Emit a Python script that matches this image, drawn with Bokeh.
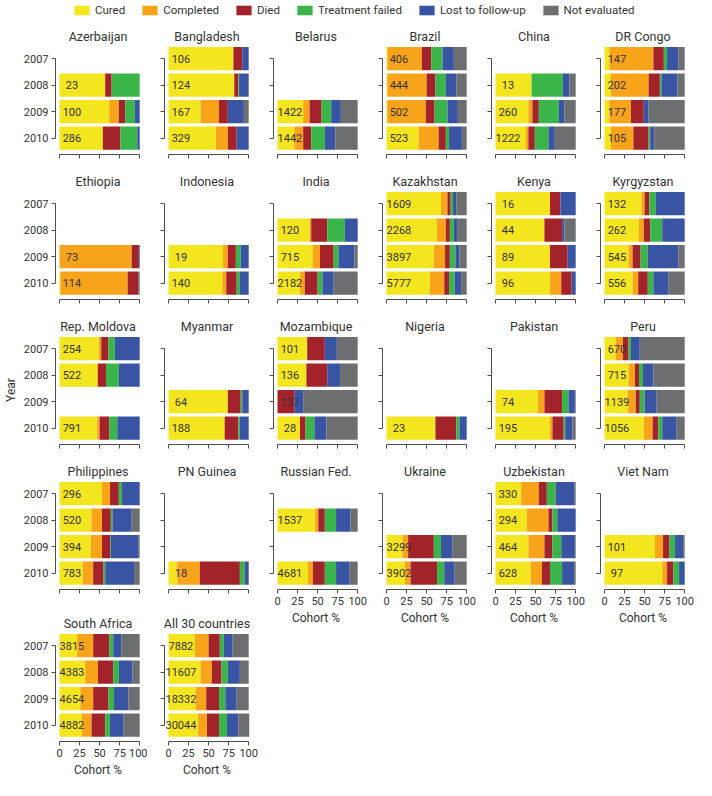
from bokeh.plotting import figure
from bokeh.models import ColumnDataSource, Range1d, FixedTicker, Legend, LegendItem
from bokeh.layouts import row, column
from bokeh.embed import file_html
from bokeh.resources import INLINE
from bokeh.core.properties import value

# ---------------- data ----------------
outcomes = ["Cured", "Completed", "Died", "Treatment failed", "Lost to follow-up", "Not evaluated"]
years = [2007, 2008, 2009, 2010]
countries = [
    "Azerbaijan", "Bangladesh", "Belarus", "Brazil", "China", "DR Congo",
    "Ethiopia", "Indonesia", "India", "Kazakhstan", "Kenya", "Kyrgyzstan",
    "Rep. Moldova", "Myanmar", "Mozambique", "Nigeria", "Pakistan", "Peru",
    "Philippines", "PN Guinea", "Russian Fed.", "Ukraine", "Uzbekistan", "Viet Nam",
    "South Africa", "All 30 countries",
]
# cohort size per year (None = no cohort reported)
cohort_n = [
    [None, 23, 100, 286], [106, 124, 167, 329], [None, None, 1422, 1442], [406, 444, 502, 523],
    [None, 13, 260, 1222], [147, 202, 177, 105],
    [None, None, 73, 114], [None, None, 19, 140], [None, 120, 715, 2182], [1609, 2268, 3897, 5777],
    [16, 44, 89, 96], [132, 262, 545, 556],
    [254, 522, None, 791], [None, None, 64, 188], [101, 136, 137, 28], [None, None, None, 23],
    [None, None, 74, 195], [670, 715, 1139, 1056],
    [296, 520, 394, 783], [None, None, None, 18], [None, 1537, None, 4681], [None, None, 3299, 3902],
    [330, 294, 464, 628], [None, None, 101, 97],
    [3815, 4383, 4654, 4882], [7882, 11607, 18332, 30044],
]
# outcome percentages per country (rows) and year (columns)
cured = [
    [None, 57, 62, 54], [81, 82, 40, 59], [None, None, 32, 21], [1, 1, 1, 40], [None, 45, 41, 38], [6, 8, 6, 8],
    [None, None, 0, 1], [None, None, 68, 67], [None, 40, 44, 28], [68, 63, 59, 54], [68, 61, 68, 68], [46, 43, 30, 35],
    [49, 47, None, 47], [None, None, 74, 70], [37, 36, 0, 28], [None, None, None, 61], [None, None, 53, 68], [14, 30, 29, 49],
    [53, 40, 39, 29], [None, None, None, 11], [None, 47, None, 38], [None, None, 20, 23], [32, 39, 41, 44], [None, None, 63, 72],
    [22, 32, 26, 28], [33, 40, 34, 37],
]
completed = [
    [None, 0, 12, 0], [0, 0, 23, 15], [None, None, 8, 11], [43, 49, 48, 25], [None, 0, 5, 3], [55, 47, 27, 28],
    [None, None, 90, 84], [None, None, 6, 5], [None, 2, 9, 6], [8, 11, 14, 18], [0, 0, 0, 14], [4, 6, 5, 7],
    [3, 1, None, 3], [None, None, 0, 0], [0, 0, 0, 0], [None, None, None, 0], [None, None, 8, 3], [9, 8, 10, 11],
    [10, 13, 14, 13], [None, None, None, 28], [None, 4, None, 6], [None, None, 7, 7], [22, 27, 20, 14], [None, None, 10, 6],
    [20, 16, 16, 12], [17, 14, 13, 11],
]
died = [
    [None, 8, 8, 22], [11, 5, 11, 11], [None, None, 15, 10], [12, 11, 11, 9], [None, 0, 8, 8], [13, 14, 16, 19],
    [None, None, 9, 13], [None, None, 10, 13], [None, 20, 17, 16], [4, 5, 6, 6], [13, 22, 22, 13], [6, 8, 10, 12],
    [9, 10, None, 12], [None, None, 16, 17], [22, 26, 21, 7], [None, None, None, 26], [None, None, 22, 14], [7, 5, 5, 7],
    [11, 11, 10, 13], [None, None, None, 50], [None, 8, None, 15], [None, None, 32, 33], [10, 5, 10, 10], [None, None, 8, 8],
    [20, 19, 19, 17], [14, 12, 16, 15],
]
failed = [
    [None, 35, 12, 21], [0, 1, 0, 0], [None, None, 12, 17], [14, 13, 16, 4], [None, 39, 25, 17], [4, 2, 0, 2],
    [None, None, 0, 0], [None, None, 6, 4], [None, 22, 6, 6], [3, 5, 7, 7], [0, 0, 0, 0], [8, 15, 9, 7],
    [8, 16, None, 10], [None, None, 2, 2], [0, 0, 0, 11], [None, None, None, 4], [None, None, 8, 2], [3, 5, 6, 5],
    [4, 2, 1, 2], [None, None, None, 6], [None, 14, None, 14], [None, None, 9, 9], [11, 6, 11, 15], [None, None, 7, 7],
    [5, 7, 7, 6], [5, 8, 8, 10],
]
lost = [
    [None, 0, 6, 3], [8, 12, 20, 15], [None, None, 12, 13], [14, 13, 13, 16], [None, 8, 7, 8], [14, 20, 6, 5],
    [None, None, 1, 0], [None, None, 10, 11], [None, 16, 20, 14], [4, 4, 5, 8], [19, 3, 10, 5], [36, 28, 38, 19],
    [31, 26, None, 28], [None, None, 8, 11], [15, 16, 11, 15], [None, None, None, 9], [None, None, 8, 9], [11, 13, 15, 18],
    [22, 24, 34, 36], [None, None, None, 5], [None, 18, None, 17], [None, None, 14, 13], [23, 23, 17, 15], [None, None, 10, 7],
    [10, 17, 18, 17], [11, 15, 14, 14],
]
not_evaluated = [
    [None, 0, 0, 0], [0, 0, 6, 0], [None, None, 21, 28], [16, 13, 11, 6], [None, 8, 14, 26], [8, 9, 45, 38],
    [None, None, 0, 2], [None, None, 0, 0], [None, 0, 4, 30], [13, 12, 9, 7], [0, 14, 0, 0], [0, 0, 8, 20],
    [0, 0, None, 0], [None, None, 0, 0], [26, 22, 68, 39], [None, None, None, 0], [None, None, 1, 4], [56, 39, 35, 10],
    [0, 10, 2, 7], [None, None, None, 0], [None, 9, None, 10], [None, None, 18, 15], [2, 0, 1, 2], [None, None, 2, 0],
    [23, 9, 14, 20], [20, 11, 15, 14],
]

# ---------------- style ----------------
colors = ["#F3E61E", "#F8A41B", "#A3232A", "#3BB44A", "#3A54A4", "#6D6E70"]
keys = ["cured", "completed", "died", "failed", "lost", "ne"]
series = [cured, completed, died, failed, lost, not_evaluated]
FONT = "Roboto"
TXT = "#333333"
AX = "#4d4d4d"

FW, FH = 85, 109
L1, L, R = 50, 12, 12
T = 25
B_PLAIN, B_ROW4, B_LAB = 11, 18, 36


def hide_labels(ax):
    ax.major_label_text_font_size = "0px"
    ax.major_label_text_color = None
    ax.major_label_text_alpha = 0


def make_panel(idx, r, c):
    first_col = c == 0
    xlab = (r == 3 and c >= 2) or r == 4
    if xlab:
        bb = B_LAB
    elif r == 3:
        bb = B_ROW4
    else:
        bb = B_PLAIN
    p = figure(frame_width=FW, frame_height=FH,
               x_range=Range1d(-5, 101), y_range=Range1d(2010.62, 2006.5),
               output_backend="svg", toolbar_location=None,
               min_border_left=L1 if first_col else L, min_border_right=R,
               min_border_top=T, min_border_bottom=bb, title=countries[idx])
    p.title.align = "center"
    p.title.text_font = FONT
    p.title.text_font_size = "12.5px"
    p.title.text_font_style = "normal"
    p.title.text_color = TXT
    p.title.standoff = 3
    p.outline_line_color = None
    p.grid.visible = False
    p.background_fill_color = "white"
    p.border_fill_color = "white"

    yrs, lab = [], []
    cols = {k: [] for k in keys}
    for j, y in enumerate(years):
        if cohort_n[idx][j] is None:
            continue
        yrs.append(y)
        lab.append(str(cohort_n[idx][j]))
        for k, s in zip(keys, series):
            cols[k].append(s[idx][j])
    data = dict(year=yrs, label=lab, **cols)
    src = ColumnDataSource(data)
    p.hbar_stack(keys, y="year", height=0.88, color=colors, line_color=None, source=src)
    p.text(x=15.5, y="year", text="label", source=src, text_align="center",
           text_baseline="middle", text_font=value(FONT), text_font_size="11px",
           text_color=TXT)

    for ax in (p.xaxis[0], p.yaxis[0]):
        ax.axis_line_color = AX
        ax.major_tick_line_color = AX
        ax.minor_tick_line_color = None
        ax.major_tick_in = 0
        ax.major_tick_out = 4
        ax.major_label_standoff = 3
        ax.major_label_text_font = FONT
        ax.major_label_text_font_size = "11px"
        ax.major_label_text_color = TXT
        ax.axis_label_text_font = FONT
        ax.axis_label_text_font_size = "12px"
        ax.axis_label_text_font_style = "normal"
        ax.axis_label_text_color = TXT
        ax.axis_label_standoff = 3
    p.xaxis.ticker = FixedTicker(ticks=[0, 25, 50, 75, 100])
    p.xaxis.bounds = (0, 100)
    p.yaxis.ticker = FixedTicker(ticks=years)
    p.yaxis.bounds = (2007, 2010)
    if xlab:
        p.xaxis.axis_label = "Cohort %"
    else:
        hide_labels(p.xaxis[0])
    if not first_col:
        hide_labels(p.yaxis[0])
    if first_col and r == 2:
        p.yaxis.axis_label = "Year"
    return p


grid_cols = [[] for _ in range(6)]
for idx in range(len(countries)):
    r, c = divmod(idx, 6)
    grid_cols[c].append(make_panel(idx, r, c))

total_w = L1 + 6 * FW + 6 * R + 5 * L

# legend strip
lf = figure(width=total_w, height=20, x_range=Range1d(0, 1), y_range=Range1d(0, 1),
            output_backend="svg", toolbar_location=None, min_border=0)
lf.axis.visible = False
lf.grid.visible = False
lf.outline_line_color = None
items = []
for name, col in zip(outcomes, colors):
    rr = lf.rect(x=[5], y=[5], width=1, height=1, fill_color=col, line_color=None)
    items.append(LegendItem(label=name, renderers=[rr]))
leg = Legend(items=items, orientation="horizontal", location=(72, 3),
             glyph_width=19, glyph_height=12, label_text_font=FONT,
             label_text_font_size="11.5px", label_text_color=TXT, spacing=15,
             padding=0, margin=0, border_line_color=None, background_fill_alpha=0,
             label_standoff=4, label_height=12)
lf.add_layout(leg, "center")

layout = column(lf, row(*[column(*cl) for cl in grid_cols]))
open("out.html", "w").write(file_html(layout, INLINE))
